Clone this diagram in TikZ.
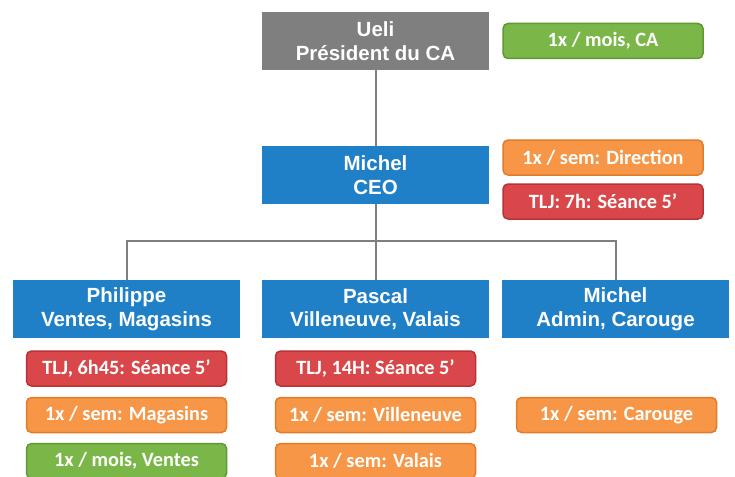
\documentclass[tikz,border=0pt]{standalone}
\usepackage{fontspec}
\setmainfont{Liberation Sans}
\newfontfamily\calib{Carlito}
\usetikzlibrary{positioning}
\definecolor{boxgray}{HTML}{7F7F7F}
\definecolor{boxblue}{HTML}{1F80C8}
\definecolor{mgreen}{HTML}{7AB648}
\definecolor{mgreenb}{HTML}{5E9A33}
\definecolor{morange}{HTML}{F79646}
\definecolor{morangeb}{HTML}{E07C2A}
\definecolor{mred}{HTML}{D9474B}
\definecolor{mredb}{HTML}{B83236}
\begin{document}
\begin{tikzpicture}[x=1pt,y=-1pt,
  person/.style={fill=#1, text=white, font=\bfseries\fontsize{20.5}{23.5}\selectfont, align=center,
    minimum width=227pt, minimum height=58pt, inner sep=0pt},
  meet/.style={fill=m#1, draw=m#1b, line width=1.5pt, rounded corners=5pt, text=white,
    font=\calib\bfseries\fontsize{20.3}{22}\selectfont,
    minimum width=200pt, minimum height=35pt, inner sep=0pt},
  conn/.style={draw=boxgray, line width=2pt}]
\useasboundingbox (0,0) rectangle (735,476);
% organigramme
\node[person=boxgray] (ueli) at (375.5,41) {Ueli\\Président du CA};
\node[person=boxblue] (ceo) at (375.5,175) {Michel\\CEO};
\node[person=boxblue] (phil) at (126.5,309) {Philippe\\Ventes, Magasins};
\node[person=boxblue] (pascal) at (375.5,309) {Pascal\\Villeneuve, Valais};
\node[person=boxblue] (admin) at (615.5,309) {Michel\\Admin, Carouge};
\coordinate (bus) at (375.5,241);
\draw[conn] (ueli) -- (ceo);
\draw[conn] (ceo) -- (bus);
\draw[conn] (pascal) -- (bus);
\draw[conn] (phil) |- (bus);
\draw[conn] (admin) |- (bus);
% seances
\node[meet=green] (ca) at (603,41) {1x / mois, CA};
\node[meet=orange] (dir) at (603,157.5) {1x / sem: Direction};
\node[meet=red] (tljceo) at (603,201.5) {TLJ: 7h: Séance 5’};
\node[meet=red] (tljphil) at (126.5,368.5) {TLJ, 6h45: Séance 5’};
\node[meet=orange] (mag) at (126.5,415) {1x / sem: Magasins};
\node[meet=green] (ventes) at (126.5,461) {1x / mois, Ventes};
\node[meet=red] (tljpascal) at (375.5,368.5) {TLJ, 14H: Séance 5’};
\node[meet=orange] (vill) at (375.5,415) {1x / sem: Villeneuve};
\node[meet=orange] (valais) at (375.5,461) {1x / sem: Valais};
\node[meet=orange] (carouge) at (616.5,415) {1x / sem: Carouge};
\end{tikzpicture}
\end{document}
